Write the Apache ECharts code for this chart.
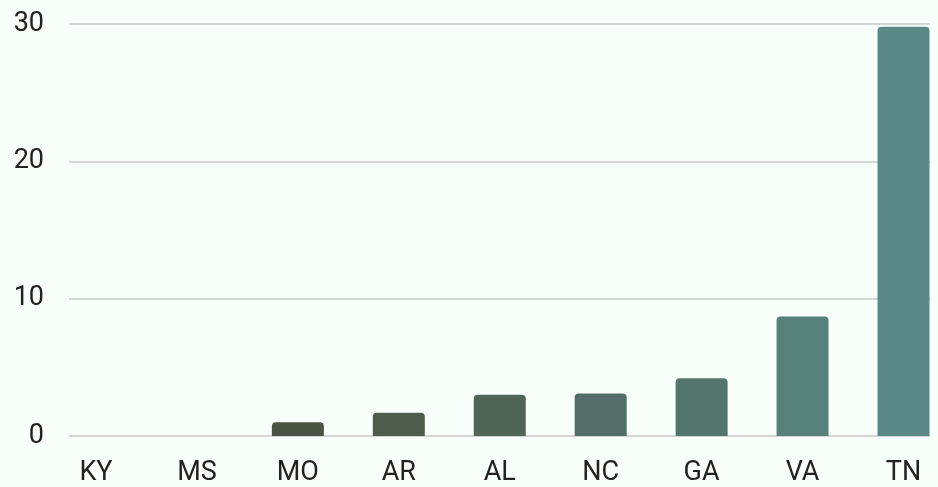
<!DOCTYPE html>
<html><head><meta charset="utf-8">
<script src="https://cdn.jsdelivr.net/npm/echarts@6/dist/echarts.min.js"></script>
<style>html,body{margin:0;padding:0;background:#f8fffb}#c{width:938px;height:487px}</style>
</head><body><div id="c"></div>
<script>
const categories = ['KY','MS','MO','AR','AL','NC','GA','VA','TN'];
const values = [0, 0, 1.0, 1.7, 3.0, 3.1, 4.2, 8.7, 29.8];
const barColors = ['#4a5242','#4b5443','#4b5443','#4d5c4b','#4f6556','#526e66','#54756c','#568079','#5a8a87'];
const yTicks = [0, 10, 20, 30];

const chart = echarts.init(document.getElementById('c'));
const yBase = {
  type: 'value', min: yTicks[0], max: yTicks[yTicks.length-1], interval: 10
};
chart.setOption({
  backgroundColor: '#f8fffb',
  animation: false,
  grid: [
    {left: 69, right: 8, top: 24, bottom: 51},
    {left: 96, right: 34.5, top: 24, bottom: 51}
  ],
  xAxis: [
    {type: 'category', gridIndex: 0, data: [''], show: false},
    {
      type: 'category', gridIndex: 1, data: categories, boundaryGap: false,
      axisLine: {show: false},
      axisTick: {show: false},
      splitLine: {show: false},
      axisLabel: {color: '#222', fontSize: 27, fontFamily: 'Roboto', margin: 24}
    }
  ],
  yAxis: [
    Object.assign({}, yBase, {
      gridIndex: 0,
      axisLabel: {color: '#222', fontSize: 27, fontFamily: 'Roboto', margin: 25},
      splitLine: {lineStyle: {color: '#c8c8c8', width: 1.5}},
      axisLine: {show: false}, axisTick: {show: false}
    }),
    Object.assign({}, yBase, {gridIndex: 1, show: false, splitLine: {show: false}})
  ],
  series: [{
    type: 'bar', xAxisIndex: 1, yAxisIndex: 1, barWidth: 52,
    data: values.map((v, i) => ({value: v, itemStyle: {color: barColors[i]}})),
    itemStyle: {borderRadius: [4, 4, 0, 0]}
  }]
});
</script></body></html>
